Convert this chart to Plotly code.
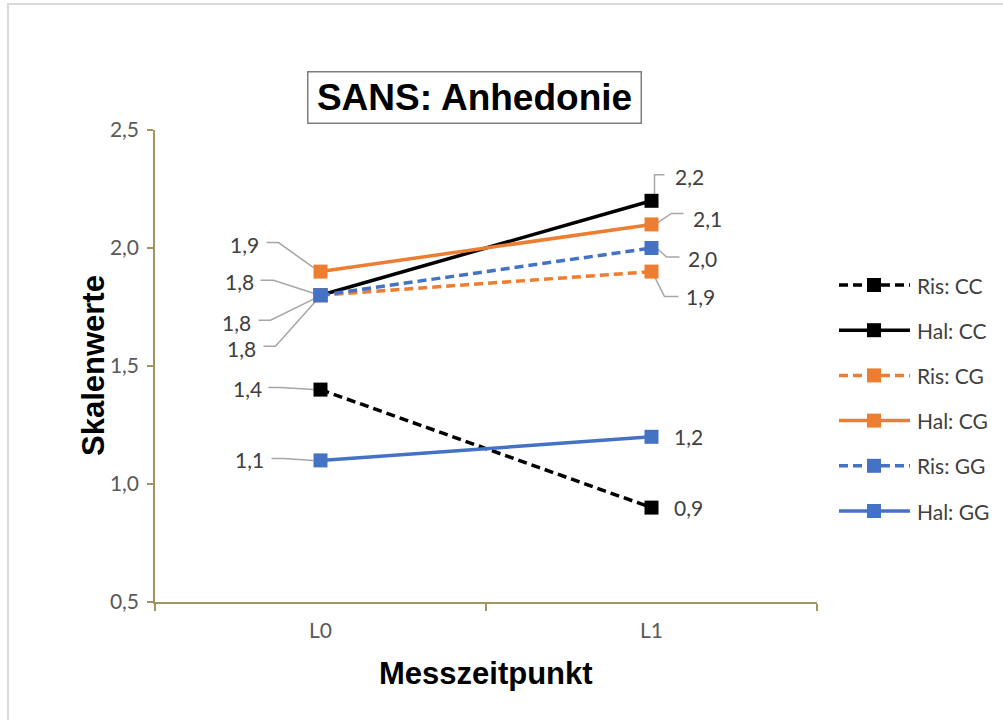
import plotly.graph_objects as go

# ---- data ----
categories = ["L0", "L1"]
series_names = ["Ris: CC", "Hal: CC", "Ris: CG", "Hal: CG", "Ris: GG", "Hal: GG"]
ris_cc = [1.4, 0.9]
hal_cc = [1.8, 2.2]
ris_cg = [1.8, 1.9]
hal_cg = [1.9, 2.1]
ris_gg = [1.8, 2.0]
hal_gg = [1.1, 1.2]
series_values = [ris_cc, hal_cc, ris_cg, hal_cg, ris_gg, hal_gg]
y_ticks = [0.5, 1.0, 1.5, 2.0, 2.5]

# ---- styles ----
colors = ["#000000", "#000000", "#ED7D31", "#ED7D31", "#4472C4", "#4472C4"]
dashes = ["9px,5px", "solid", "9px,5px", "solid", "9px,5px", "solid"]
AXIS_COL = "#A0955F"
LEADER_COL = "#A6A6A6"
LABEL_COL = "#404040"
TICK_FONT = dict(family="Lato, 'Open Sans', sans-serif", size=21, color="#595959")
LABEL_FONT = dict(family="Lato, 'Open Sans', sans-serif", size=21, color=LABEL_COL)

# label offsets (pixels, y up) per series per category, and leader paths
label_offsets = [
    [(-73.5, 1), (37, 0)],
    [(-81, 14), (37.5, 24)],
    [(-84, -27), (48.5, -25)],
    [(-76.5, 27), (56, 6)],
    [(-79, -53), (51, -10)],
    [(-71, 1), (37, 0)],
]
leaders = [
    [[(-52, 2), (-40, 2), (-7, 0)], None],
    [[(-60, 15), (-47, 15), (-7, 2)], [(13, 26), (3, 26), (3, 6)]],
    [[(-62, -25), (-50, -25), (-5, -3)], [(27, -25), (13, -25), (3, -5)]],
    [[(-54, 29), (-42, 29), (-7, 4)], [(32, 11), (20, 11), (5, 1)]],
    [[(-57, -51), (-45, -51), (-4, -5)], [(28, -9), (15, -9), (5, 0)]],
    [[(-49, 2), (-37, 2), (-7, 0)], None],
]

fig = go.Figure()
for name, vals, c, d in zip(series_names, series_values, colors, dashes):
    fig.add_trace(go.Scatter(
        x=categories, y=vals, name=name, mode="lines+markers",
        line=dict(color=c, width=3.5, dash=d),
        marker=dict(symbol="square", size=14, color=c, line=dict(width=0)),
        showlegend=False,
    ))

shapes = []
annotations = []
for si, vals in enumerate(series_values):
    for ci, v in enumerate(vals):
        dx, dy = label_offsets[si][ci]
        annotations.append(dict(
            x=ci, y=v, xref="x", yref="y", text=f"{v:.1f}".replace(".", ","),
            showarrow=False, xshift=dx, yshift=dy, font=LABEL_FONT,
            xanchor="center", yanchor="middle"))
        pts = leaders[si][ci]
        if pts:
            path = "M " + " L ".join(f"{px},{py}" for px, py in pts)
            shapes.append(dict(
                type="path", xref="x", yref="y", xsizemode="pixel", ysizemode="pixel",
                xanchor=ci, yanchor=v, path=path,
                line=dict(color=LEADER_COL, width=1.5), layer="below"))

# ---- manual legend ----
W, H = 1003, 720
L, R, T, B = 155, 817, 130, 602
def px_x(p):
    return (p - L) / (R - L)
def px_y(p):
    return (B - p) / (B - T)

leg_y0, leg_dy = 285, 45.2
for i, (name, c, d) in enumerate(zip(series_names, colors, dashes)):
    yy = px_y(leg_y0 + i * leg_dy)
    shapes.append(dict(type="line", xref="paper", yref="paper",
                       x0=px_x(839), x1=px_x(910), y0=yy, y1=yy,
                       line=dict(color=c, width=3.5, dash=d)))
    shapes.append(dict(type="rect", xref="paper", yref="paper",
                       xsizemode="pixel", ysizemode="pixel",
                       xanchor=px_x(874), yanchor=yy, x0=-7, x1=7, y0=-7, y1=7,
                       fillcolor=c, line=dict(width=0)))
    annotations.append(dict(x=px_x(915), y=yy, xref="paper", yref="paper",
                            text=name, showarrow=False, xanchor="left",
                            yanchor="middle", font=LABEL_FONT))

# outer chart border
shapes.append(dict(type="rect", xref="paper", yref="paper",
                   x0=px_x(8), x1=px_x(1010), y0=px_y(730), y1=px_y(4),
                   line=dict(color="#D9D9D9", width=2), fillcolor="rgba(0,0,0,0)"))

# title box
annotations.append(dict(x=px_x(474), y=px_y(97), xref="paper", yref="paper",
                        text="<b>SANS: Anhedonie</b>", showarrow=False,
                        xanchor="center", yanchor="middle",
                        font=dict(family="Liberation Sans, Arial, sans-serif", size=37, color="#000000"),
                        bordercolor="#7F7F7F", borderwidth=1.5, borderpad=5,
                        width=322, height=40))
# axis titles
annotations.append(dict(x=0.5, y=px_y(673), xref="paper", yref="paper",
                        text="<b>Messzeitpunkt</b>", showarrow=False,
                        xanchor="center", yanchor="middle",
                        font=dict(family="Liberation Sans, Arial, sans-serif", size=31, color="#000000")))
annotations.append(dict(x=px_x(93), y=0.5, xref="paper", yref="paper",
                        text="<b>Skalenwerte</b>", showarrow=False, textangle=-90,
                        xanchor="center", yanchor="middle",
                        font=dict(family="Liberation Sans, Arial, sans-serif", size=31, color="#000000")))

fig.update_layout(
    width=W, height=H,
    margin=dict(l=L, r=W - R, t=T, b=H - B, pad=0),
    paper_bgcolor="white", plot_bgcolor="white",
    separators=", ",
    shapes=shapes, annotations=annotations,
    showlegend=False,
)
fig.update_xaxes(type="category", categoryorder="array", categoryarray=categories,
                 range=[-0.5, 1.5], tickson="boundaries", ticks="outside",
                 ticklen=7, tickwidth=1.5, tickcolor=AXIS_COL,
                 showline=True, linecolor=AXIS_COL, linewidth=1.5,
                 showgrid=False, zeroline=False, tickfont=TICK_FONT,
                 ticklabelstandoff=9)
fig.update_yaxes(range=[0.5, 2.5], tickvals=y_ticks, tickformat=".1f",
                 ticks="outside", ticklen=6, tickwidth=1.5, tickcolor=AXIS_COL,
                 showline=True, linecolor=AXIS_COL, linewidth=1.5,
                 showgrid=False, zeroline=False, tickfont=TICK_FONT,
                 ticklabelstandoff=4)

fig.write_html("out.html")
